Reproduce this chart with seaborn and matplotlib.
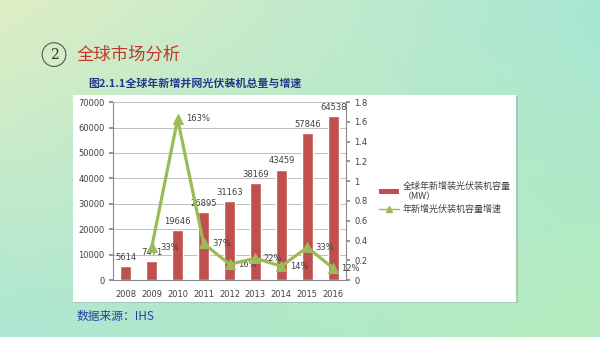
import numpy as np
import pandas as pd
import matplotlib
matplotlib.use("Agg")
import matplotlib.pyplot as plt
import seaborn as sns
from matplotlib.patches import Rectangle
from matplotlib.lines import Line2D
from matplotlib.patches import Patch

sns.set_theme(style="white")
plt.rcParams['font.family'] = ['Noto Sans CJK SC', 'DejaVu Sans']

# ---- data ----
years = ["2008", "2009", "2010", "2011", "2012", "2013", "2014", "2015", "2016"]
capacity = [5614, 7471, 19646, 26895, 31163, 38169, 43459, 57846, 64538]
growth_years = ["2009", "2010", "2011", "2012", "2013", "2014", "2015", "2016"]
growth = [0.33, 1.63, 0.37, 0.16, 0.22, 0.14, 0.33, 0.12]
growth_labels = ["33%", "163%", "37%", "16%", "22%", "14%", "33%", "12%"]
left_ticks = [0, 10000, 20000, 30000, 40000, 50000, 60000, 70000]
right_ticks = [0, 0.2, 0.4, 0.6, 0.8, 1, 1.2, 1.4, 1.6, 1.8]
right_tick_labels = ["0", "0.2", "0.4", "0.6", "0.8", "1", "1.2", "1.4", "1.6", "1.8"]
bar_name = "全球年新增装光伏装机容量\n（MW）"
line_name = "年新增光伏装机容量增速"
title = "全球市场分析"
subtitle = "图2.1.1全球年新增并网光伏装机总量与增速"
source = "数据来源：IHS"

bar_color = "#c0504d"
line_color = "#9bbb59"
text_gray = "#404040"
num_font = "DejaVu Sans"

fig = plt.figure(figsize=(6.0, 3.37), dpi=100)

# background gradient
bg = fig.add_axes([0, 0, 1, 1], zorder=-10)
bg.axis("off")
tl = np.array([222, 238, 196]) / 255
tr = np.array([168, 230, 212]) / 255
bl = np.array([172, 230, 210]) / 255
br = np.array([182, 236, 190]) / 255
ny, nx = 60, 100
u = np.linspace(0, 1, nx)[None, :, None]
v = np.linspace(0, 1, ny)[:, None, None]
img = (1 - u) * (1 - v) * tl + u * (1 - v) * tr + (1 - u) * v * bl + u * v * br
bg.imshow(img, aspect="auto", extent=[0, 1, 0, 1], interpolation="bilinear")
bg.set_xlim(0, 1); bg.set_ylim(0, 1)

# white panel with slight shadow
bg.add_patch(Rectangle((0.124, 0.101), 0.740, 0.615, facecolor="#9aa9a2", edgecolor="none", alpha=0.5))
bg.add_patch(Rectangle((0.122, 0.104), 0.738, 0.614, facecolor="white", edgecolor="none"))

# titles
fig.text(0.090, 0.838, "2", fontsize=10, color="#333333", ha="center", va="center",
         family="DejaVu Serif",
         bbox=dict(boxstyle="circle,pad=0.35", facecolor="none", edgecolor="#555555", lw=0.8))
fig.text(0.128, 0.838, title, fontsize=12.5, color="#c0392b", ha="left", va="center")
fig.text(0.147, 0.752, subtitle, fontsize=7.9, color="#1f3a8a", ha="left", va="center",
         fontweight="bold")
fig.text(0.128, 0.060, source, fontsize=8.5, color="#2b3fa0", ha="left", va="center")

# main axes
ax = fig.add_axes([0.188, 0.169, 0.389, 0.528])
df = pd.DataFrame({"year": years, "capacity": capacity})
sns.barplot(data=df, x="year", y="capacity", color=bar_color, width=0.42, ax=ax,
            saturation=1, zorder=3)
ax.set_ylim(0, 70000)
ax.set_xlim(-0.5, len(years) - 0.5)
ax.set_yticks(left_ticks)
ax.set_yticklabels([str(t) for t in left_ticks])
ax.yaxis.grid(True, color="#bfbfbf", lw=0.7)
ax.set_axisbelow(True)
ax.set_xlabel(""); ax.set_ylabel("")
ax.tick_params(axis="x", labelsize=6, colors=text_gray, length=0, pad=7)
ax.tick_params(axis="y", labelsize=6, colors=text_gray, length=3, color="#888888",
               direction="out", pad=3)
ax.set_xticks(np.arange(-0.5, len(years), 1), minor=True)
ax.tick_params(axis="x", which="minor", length=3, color="#888888")
for t in ax.get_xticklabels() + ax.get_yticklabels():
    t.set_family(num_font)
for s in ["top", "right"]:
    ax.spines[s].set_visible(False)
for s in ["left", "bottom"]:
    ax.spines[s].set_color("#888888")
    ax.spines[s].set_linewidth(0.8)
for i, val in enumerate(capacity):
    ax.annotate(str(val), (i, val), xytext=(0, 3), textcoords="offset points",
                ha="center", va="bottom", fontsize=6, color=text_gray, family=num_font)

# secondary axis
ax2 = ax.twinx()
gdf = pd.DataFrame({"year": growth_years, "growth": growth})
gdf["pos"] = [years.index(y) for y in growth_years]
sns.lineplot(data=gdf, x="pos", y="growth", color=line_color, lw=2.3, marker="^",
             markersize=6.5, markeredgecolor=line_color, ax=ax2, zorder=4)
ax2.set_ylim(0, 1.8)
ax2.set_xlim(-0.5, len(years) - 0.5)
ax2.set_yticks(right_ticks)
ax2.set_yticklabels(right_tick_labels)
ax2.set_xlabel(""); ax2.set_ylabel("")
ax2.tick_params(axis="y", labelsize=6, colors=text_gray, length=3, color="#888888", pad=3)
for t in ax2.get_yticklabels():
    t.set_family(num_font)
for s in ["top", "left", "bottom"]:
    ax2.spines[s].set_visible(False)
ax2.spines["right"].set_color("#888888")
ax2.spines["right"].set_linewidth(0.8)
for p, g, lab in zip(gdf["pos"], growth, growth_labels):
    ax2.annotate(lab, (p, g), xytext=(6, 0), textcoords="offset points",
                 ha="left", va="center", fontsize=6, color=text_gray, family=num_font)

# legend
handles = [Patch(facecolor=bar_color, edgecolor="none"),
           Line2D([0], [0], color=line_color, lw=1, marker="^", markersize=4)]
leg = fig.legend(handles, [bar_name, line_name], loc="upper left",
                 bbox_to_anchor=(0.618, 0.485), frameon=False, fontsize=6.5,
                 handlelength=2.2, handleheight=0.5, handletextpad=0.4, labelspacing=0.4)
for t in leg.get_texts():
    t.set_color(text_gray)

fig.savefig("out.png", dpi=100)
